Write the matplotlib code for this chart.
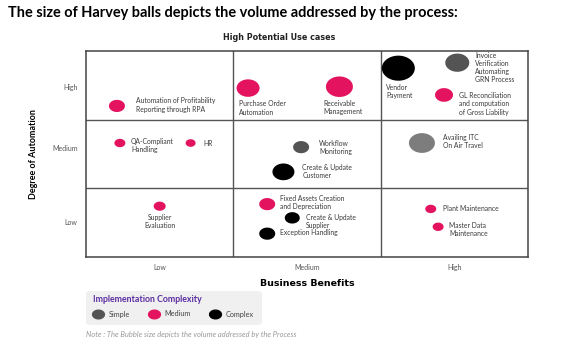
import numpy as np
import matplotlib
matplotlib.use("Agg")
import matplotlib.pyplot as plt
from matplotlib.path import Path
from matplotlib.lines import Line2D
from matplotlib.patches import FancyBboxPatch


# use cases placed on the Business Benefits (x) / Degree of Automation (y) grid
names = [
    "Automation of Profitability\nReporting through RPA",
    "Purchase Order\nAutomation",
    "Receivable\nManagement",
    "Vendor\nPayment",
    "Invoice\nVerification\nAutomating\nGRN Process",
    "GL Reconciliation\nand computation\nof Gross Liability",
    "QA-Compliant\nHandling",
    "HR",
    "Workflow\nMonitoring",
    "Create & Update\nCustomer",
    "Availing ITC\nOn Air Travel",
    "Supplier\nEvaluation",
    "Fixed Assets Creation\nand Depreciation",
    "Create & Update\nSupplier",
    "Exception Handling",
    "Plant Maintenance",
    "Master Data\nMaintenance",
]
benefit = [0.21, 1.10, 1.72, 2.12, 2.52, 2.43, 0.23, 0.71, 1.46, 1.34, 2.28,
           0.50, 1.23, 1.40, 1.23, 2.34, 2.39]
automation = [2.20, 2.46, 2.48, 2.75, 2.83, 2.36, 1.66, 1.66, 1.60, 1.24, 1.66,
              0.74, 0.77, 0.57, 0.34, 0.70, 0.44]
volume = [16, 23, 27, 33, 24, 18, 11, 10, 16, 22, 26, 12, 16, 15, 16, 11, 11]
complexity = ["Medium", "Medium", "Medium", "Complex", "Simple", "Medium",
              "Medium", "Medium", "Simple", "Complex", "Simple", "Medium",
              "Medium", "Complex", "Complex", "Medium", "Medium"]

levels = ["Low", "Medium", "High"]
legend_levels = ["Simple", "Medium", "Complex"]

# styling
colour_of = {"Simple": "#545454", "Medium": "#e3135f", "Complex": "#000000"}
shade_override = {"Availing ITC\nOn Air Travel": "#7d7d7d"}
# label placement relative to the bubble, in pixels (dx, dy, ha)
label_pos = [
    (19, 1, "left"), (-9, -20, "left"), (-16, -21, "left"), (-12, -23, "left"),
    (18, -5, "left"), (15, -9, "left"), (11, -2.5, "left"), (13, 0, "left"),
    (18, -0.5, "left"), (19, 0, "left"), (21, 1.5, "left"), (0, -15.5, "center"),
    (13, 2, "left"), (14, -3.5, "left"), (13, 1, "left"), (12, 0, "left"),
    (11, -2.5, "left"),
]

# horizontally stretched circle, like the original slide
t = np.linspace(0, 2 * np.pi, 60)
oval = Path(np.column_stack([np.cos(t), 0.76 * np.sin(t)]), closed=True)

W, H = 587, 364
fig = plt.figure(figsize=(W / 100, H / 100), dpi=100)
ax = fig.add_axes([86 / W, 1 - 257 / H, 442 / W, 206 / H])
ax.set_xlim(0, 3)
ax.set_ylim(0, 3)

for v in (1, 2):
    ax.axvline(v, color="#555555", lw=1.0)
    ax.axhline(v, color="#555555", lw=1.0)
for s in ax.spines.values():
    s.set_color("#444444")
    s.set_linewidth(1.1)

cols = [shade_override.get(n, colour_of[c]) for n, c in zip(names, complexity)]
sizes = [(d * 0.72) ** 2 for d in volume]
ax.scatter(benefit, automation, s=sizes, c=cols, marker=oval, linewidths=0,
           zorder=3)

for n, x, y, (dx, dy, ha) in zip(names, benefit, automation, label_pos):
    ax.annotate(n, (x, y), xytext=(dx, dy), textcoords="offset pixels",
                ha=ha, va="center", fontsize=4.9, color="#3a3a3a",
                family="Lato", linespacing=1.2)

ax.set_xticks([0.5, 1.5, 2.5])
ax.set_xticklabels(levels)
ax.set_yticks([0.51, 1.59, 2.47])
ax.set_yticklabels(levels)
ax.tick_params(length=0, labelsize=5, labelcolor="#555555", pad=5)
ax.tick_params(axis="y", pad=6)
for lbl in ax.get_xticklabels() + ax.get_yticklabels():
    lbl.set_family("Lato")

fig.text(279 / W, 1 - 38 / H, "High Potential Use cases", fontsize=5.8,
         fontweight="bold", family="DejaVu Sans", color="#222222",
         ha="center", va="center")
ax.set_xlabel("Business Benefits", fontsize=6.8, fontweight="bold",
              family="DejaVu Sans", labelpad=6)
ax.set_ylabel("Degree of Automation", fontsize=6.5, fontweight="bold",
              family="Lato", labelpad=10)

fig.text(8 / W, 1 - 13 / H,
         "The size of Harvey balls depicts the volume addressed by the process:",
         fontsize=10.45, fontweight="bold", family="Lato", va="center")

# legend panel
box = FancyBboxPatch((86 / W, 1 - 325 / H), 176 / W, 34 / H,
                     boxstyle="round,pad=0,rounding_size=0.008",
                     transform=fig.transFigure, facecolor="#f0f0f0",
                     edgecolor="none", zorder=0)
fig.patches.append(box)
fig.text(93 / W, 1 - 300 / H, "Implementation Complexity", fontsize=6.3,
         fontweight="bold", family="Lato", color="#5a2ca0", va="center")
handles = [Line2D([], [], marker=oval, ls="none", markersize=9.5,
                  markerfacecolor=colour_of[k], markeredgewidth=0)
           for k in legend_levels]
leg = fig.legend(handles, legend_levels, ncol=3, frameon=False,
                 loc="center left", bbox_to_anchor=(94 / W, 1 - 314 / H),
                 fontsize=5.2, handlelength=1.0, handletextpad=1.0,
                 columnspacing=2.8, borderpad=0, borderaxespad=0)
for txt in leg.get_texts():
    txt.set_family("Lato")
    txt.set_color("#444444")

fig.text(86 / W, 1 - 334 / H,
         "Note : The Bubble size depicts the volume addressed by the Process",
         fontsize=5.4, style="italic", family="Lato", color="#999999",
         va="center")

fig.savefig("out.png", dpi=100)
